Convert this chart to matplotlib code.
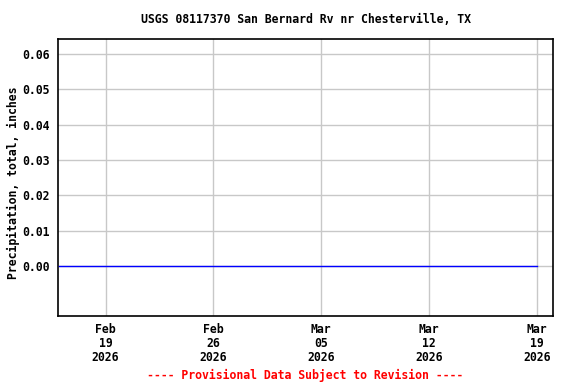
import matplotlib
matplotlib.use('Agg')
import matplotlib.pyplot as plt
import matplotlib.dates as mdates
import numpy as np

title = 'USGS 08117370 San Bernard Rv nr Chesterville, TX'
ylabel = 'Precipitation, total, inches'
footer = '---- Provisional Data Subject to Revision ----'

# daily precipitation totals, Feb 16 - Mar 19 2026
start_date = '2026-02-16'
end_date = '2026-03-19'
precip = [0.00, 0.00, 0.00, 0.00, 0.00, 0.00, 0.00, 0.00,
          0.00, 0.00, 0.00, 0.00, 0.00, 0.00, 0.00, 0.00,
          0.00, 0.00, 0.00, 0.00, 0.00, 0.00, 0.00, 0.00,
          0.00, 0.00, 0.00, 0.00, 0.00, 0.00, 0.00, 0.00]

tick_dates = ['2026-02-19', '2026-02-26', '2026-03-05', '2026-03-12', '2026-03-19']
tick_labels = ['Feb\n19\n2026', 'Feb\n26\n2026', 'Mar\n05\n2026', 'Mar\n12\n2026', 'Mar\n19\n2026']
y_ticks = [0.00, 0.01, 0.02, 0.03, 0.04, 0.05, 0.06]

plt.rcParams['font.family'] = ['DejaVu Sans Mono']
plt.rcParams['font.weight'] = 'bold'
fs = 8.3

fig = plt.figure(figsize=(5.76, 3.84), dpi=100)
ax = fig.add_axes([0.1007, 0.177, 0.8594, 0.7214])

dates = np.arange(np.datetime64(start_date), np.datetime64(end_date) + 1)
ax.plot(dates, precip, color='#0000ff', linewidth=1.0, zorder=3)

ax.set_xlim(mdates.datestr2num('2026-02-15 22:00'), mdates.datestr2num('2026-03-20 01:00'))
ax.set_ylim(-0.0142, 0.0643)

ax.set_xticks([mdates.datestr2num(d) for d in tick_dates])
ax.set_xticklabels(tick_labels, fontsize=fs, fontweight='bold', linespacing=1.12)
ax.set_yticks(y_ticks)
ax.set_yticklabels(['%.2f' % v for v in y_ticks], fontsize=fs, fontweight='bold')
ax.tick_params(length=0, pad=6)
ax.tick_params(axis='x', pad=5)

ax.grid(True, color='#c8c8c8', linewidth=1.0)
for s in ax.spines.values():
    s.set_linewidth(1.2)
    s.set_color('black')

ax.set_ylabel(ylabel, fontsize=fs, fontweight='bold')
ax.yaxis.set_label_coords(-0.077, 0.48)
cx = 0.1007 + 0.8594 / 2
fig.text(cx, 0.948, title, ha='center', va='center', fontsize=fs, fontweight='bold')
fig.text(cx, 0.023, footer, ha='center', va='center', fontsize=fs, fontweight='bold', color='red')

plt.savefig('out.png', dpi=100)
